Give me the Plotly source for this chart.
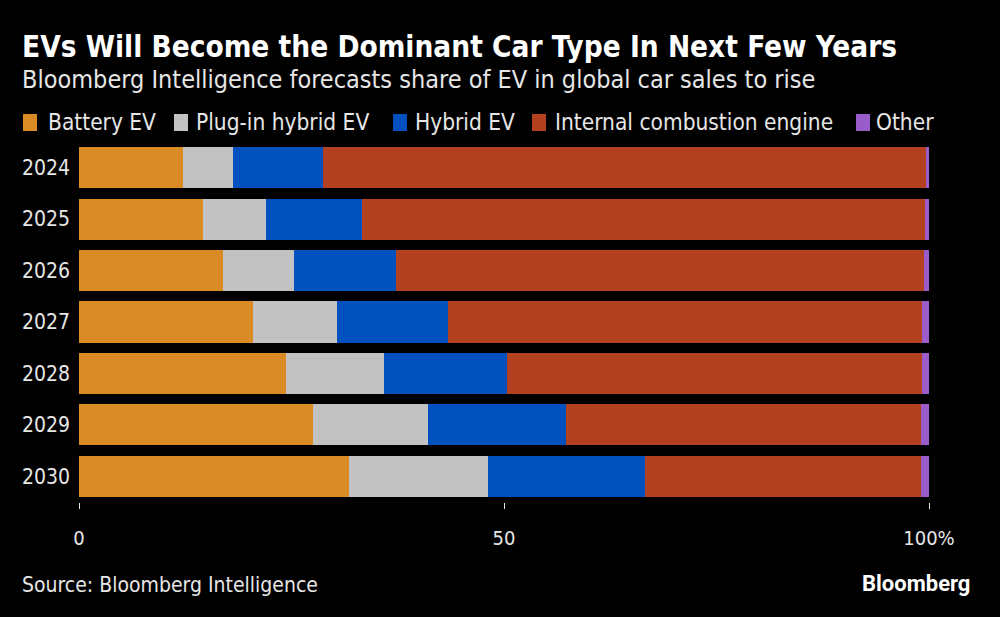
import plotly.graph_objects as go

years = ["2024", "2025", "2026", "2027", "2028", "2029", "2030"]
battery_ev = [12.2, 14.6, 16.9, 20.5, 24.4, 27.5, 31.8]
plugin_hybrid_ev = [5.9, 7.4, 8.4, 9.9, 11.5, 13.6, 16.3]
hybrid_ev = [10.6, 11.3, 12.0, 13.0, 14.5, 16.2, 18.5]
ice = [70.9, 66.2, 62.1, 55.8, 48.8, 41.8, 32.4]
other = [0.4, 0.5, 0.6, 0.8, 0.8, 0.9, 1.0]

series_names = ["Battery EV", "Plug-in hybrid EV", "Hybrid EV", "Internal combustion engine", "Other"]
series_values = [battery_ev, plugin_hybrid_ev, hybrid_ev, ice, other]
series_colors = ["#DB8B25", "#C2C2C2", "#0152BF", "#B3401F", "#9A5CC9"]

FONT = "DejaVu Sans Condensed, Liberation Sans Narrow, sans-serif"
W, H = 1000, 617
ML, MR, MT, MB = 79, 71, 142, 115
PW, PH = W - ML - MR, H - MT - MB

def px(x):
    return (x - ML) / PW

def py(y):
    return (H - MB - y) / PH

fig = go.Figure()
for name, vals, color in zip(series_names, series_values, series_colors):
    fig.add_trace(go.Bar(
        y=years, x=vals, name=name, orientation="h",
        marker=dict(color=color, line=dict(width=0)),
        showlegend=False,
    ))

annotations = [
    dict(text="<b>EVs Will Become the Dominant Car Type In Next Few Years</b>",
         x=px(20), y=py(47), xanchor="left", yanchor="middle",
         font=dict(size=29.5, color="white")),
    dict(text="Bloomberg Intelligence forecasts share of EV in global car sales to rise",
         x=px(20), y=py(80), xanchor="left", yanchor="middle",
         font=dict(size=25, color="#E6E6E6")),
    dict(text="Source: Bloomberg Intelligence",
         x=px(20), y=py(585), xanchor="left", yanchor="middle",
         font=dict(size=21, color="#E6E6E6")),
    dict(text="<b>Bloomberg</b>",
         x=px(972), y=py(583), xanchor="right", yanchor="middle",
         font=dict(size=22, color="white", family="Roboto, Arial, sans-serif")),
]
shapes = []
legend_sq_x = [23, 174, 393, 532, 856]
legend_txt_x = [46, 194, 413, 553, 874]
for name, color, sx, tx in zip(series_names, series_colors, legend_sq_x, legend_txt_x):
    shapes.append(dict(type="rect", xref="paper", yref="paper",
                       x0=px(sx), x1=px(sx + 14), y0=py(131), y1=py(114),
                       fillcolor=color, line=dict(width=0)))
    annotations.append(dict(text=name, x=px(tx), y=py(122), xanchor="left", yanchor="middle",
                            font=dict(size=22.5, color="#E6E6E6")))

for a in annotations:
    a.update(xref="paper", yref="paper", showarrow=False)

fig.update_layout(
    width=W, height=H,
    barmode="stack", bargap=0.2,
    paper_bgcolor="black", plot_bgcolor="black",
    margin=dict(l=ML, r=MR, t=MT, b=MB, autoexpand=False),
    font=dict(family=FONT, color="#E6E6E6", size=20),
    showlegend=False,
    xaxis=dict(
        range=[0, 100], tickvals=[0, 50, 100], ticktext=["0", "50", "100%"],
        showgrid=False, zeroline=False, showline=False, automargin=False,
        ticks="outside", ticklen=6, tickcolor="#E6E6E6", tickwidth=1,
        ticklabelstandoff=12,
        tickfont=dict(size=20, color="#E6E6E6"),
    ),
    yaxis=dict(
        categoryorder="array", categoryarray=years, autorange="reversed",
        showgrid=False, zeroline=False, showline=False, automargin=False,
        ticks="", ticklabelstandoff=8,
        tickfont=dict(size=21, color="#E6E6E6"),
    ),
    annotations=annotations,
    shapes=shapes,
)

fig.write_html(
    "out.html",
    config={"displayModeBar": False},
    post_script="document.body.style.margin='0';document.body.style.background='black';",
)
